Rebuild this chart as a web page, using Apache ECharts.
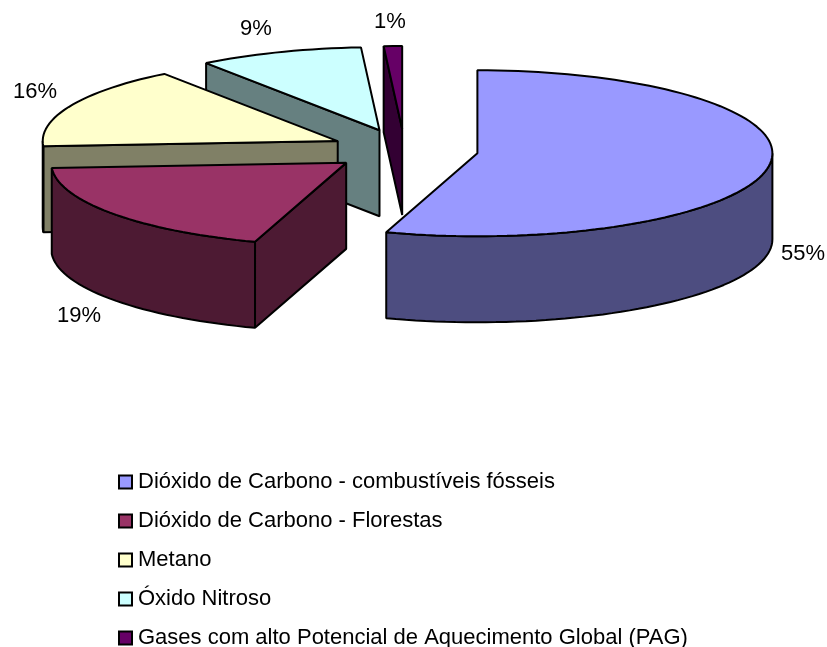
<!DOCTYPE html>
<html>
<head>
<meta charset="utf-8">
<style>
  html, body { margin: 0; padding: 0; background: #fff; }
  #chart { width: 827px; height: 647px; }
</style>
</head>
<body>
<div id="chart"></div>
<script src="https://cdn.jsdelivr.net/npm/echarts@6/dist/echarts.min.js"></script>
<script>
const categories = [
  'Dióxido de Carbono - combustíveis fósseis',
  'Dióxido de Carbono - Florestas',
  'Metano',
  'Óxido Nitroso',
  'Gases com alto Potencial de Aquecimento Global (PAG)'
]
const shares = [55, 19, 16, 9, 1]
const topColors = ['#9999FF', '#993366', '#FFFFCC', '#CCFFFF', '#660066']
const sideColors = ['#4D4D80', '#4D1A33', '#808066', '#668080', '#330033']
const labelSpots = [[803, 254], [79, 316], [35, 92], [256, 29], [390, 22]]

// pie geometry, angles are clockwise from 12 o'clock
const cx = 404.5, cy = 150, rx = 295, ry = 83, depth = 86, explodeX = 73.8, explodeY = 21
const total = shares.reduce((a, b) => a + b, 0)
const rad = d => d * Math.PI / 180

const arc = (c, from, to, dy) => {
  const pts = []
  const n = Math.max(2, Math.ceil((to - from) / 2))
  for (let k = 0; k <= n; k++) {
    const a = rad(from + (to - from) * k / n)
    pts.push([c[0] + rx * Math.sin(a), c[1] - ry * Math.cos(a) + dy])
  }
  return pts
}

const poly = (points, fill) => ({
  type: 'polygon',
  shape: { points },
  style: { fill, stroke: '#000', lineWidth: 2, lineJoin: 'bevel' }
})

const renderSlice = i => (params, api) => {
  const before = shares.slice(0, i).reduce((a, b) => a + b, 0)
  const a0 = before / total * 360
  const a1 = (before + api.value(0)) / total * 360
  const mid = rad((a0 + a1) / 2)
  const c = [cx + explodeX * Math.sin(mid), cy - explodeY * Math.cos(mid)]
  const children = []

  // cut faces that turn towards the viewer
  const edge = a => arc(c, a, a, 0)[0]
  const face = a => {
    const p = edge(a)
    return poly([c, p, [p[0], p[1] + depth], [c[0], c[1] + depth]], sideColors[i])
  }
  if (Math.sin(rad(a0)) < -0.01) children.push(face(a0))
  if (Math.sin(rad(a1)) > 0.01) children.push(face(a1))

  // outer wall, only the front half of the rim shows
  const w0 = Math.max(a0, 90), w1 = Math.min(a1, 270)
  if (w1 > w0) {
    children.push(poly(arc(c, w0, w1, 0).concat(arc(c, w0, w1, depth).reverse()), sideColors[i]))
  }

  children.push(poly([c].concat(arc(c, a0, a1, 0)), topColors[i]))
  children.push({
    type: 'text',
    style: {
      text: api.value(0) + '%',
      x: labelSpots[i][0],
      y: labelSpots[i][1],
      fill: '#000',
      font: '22px "Liberation Sans"',
      align: 'center',
      verticalAlign: 'middle'
    }
  })
  return { type: 'group', children }
}

const chart = echarts.init(document.getElementById('chart'))
chart.setOption({
  animation: false,
  backgroundColor: '#fff',
  textStyle: { fontFamily: 'Liberation Sans' },
  legend: {
    orient: 'vertical',
    left: 118,
    top: 471,
    height: 300,
    padding: 0,
    itemWidth: 13,
    itemHeight: 13,
    itemGap: 17,
    icon: 'rect',
    data: categories,
    textStyle: { fontFamily: 'Liberation Sans', fontSize: 22, color: '#000', padding: [0, 0, 0, 1] },
    selectedMode: false
  },
  series: categories.map((name, i) => ({
    name,
    type: 'custom',
    coordinateSystem: 'none',
    z: 10 - i,
    silent: true,
    itemStyle: { color: topColors[i], borderColor: '#000', borderWidth: 1.5 },
    renderItem: renderSlice(i),
    data: [shares[i]]
  }))
})
</script>
</body>
</html>
